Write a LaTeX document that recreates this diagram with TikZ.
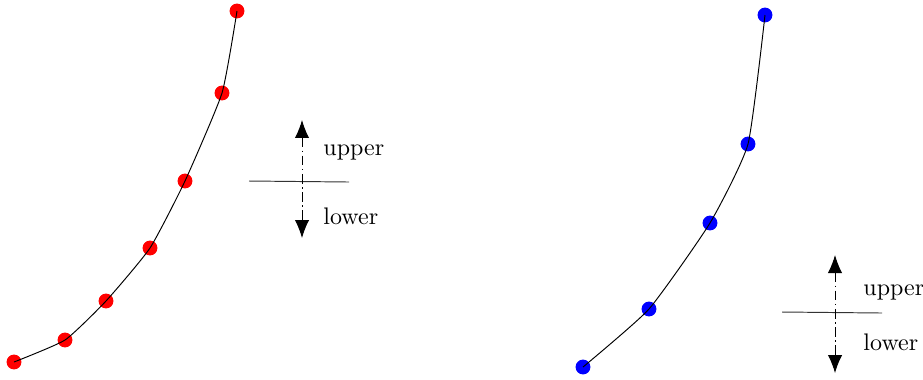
\documentclass[tikz,border=0pt]{standalone}
\usetikzlibrary{arrows.meta}
\begin{document}
\begin{tikzpicture}[x=0.417pt,y=-0.417pt,
  reddot/.style={circle,fill=red,inner sep=0pt,minimum size=6.2pt},
  bluedot/.style={circle,fill=blue,inner sep=0pt,minimum size=6.2pt},
  curve/.style={line width=0.4pt,black},
  refline/.style={line width=0.4pt,black!80},
  dir/.style={line width=0.4pt,dash pattern=on 4pt off 1.5pt on 0.6pt off 1.5pt,{Latex[length=7.5pt,width=6pt]}-{Latex[length=7.5pt,width=6pt]}},
  lab/.style={anchor=west,inner sep=0pt}]
\useasboundingbox (0,0) rectangle (923,379);
% red dots
\node[reddot] (r1) at (14,362) {};
\node[reddot] (r2) at (65,340) {};
\node[reddot] (r3) at (106,301) {};
\node[reddot] (r4) at (150,248) {};
\node[reddot] (r5) at (185,181) {};
\node[reddot] (r6) at (222,93) {};
\node[reddot] (r7) at (237,11) {};
\draw[curve] plot[smooth,tension=0.3] coordinates {(r1.center) (r2.center) (r3.center) (r4.center) (r5.center) (r6.center) (r7.center)};
% blue dots
\node[bluedot] (b1) at (583,367) {};
\node[bluedot] (b2) at (649,309) {};
\node[bluedot] (b3) at (710,223) {};
\node[bluedot] (b4) at (748,144) {};
\node[bluedot] (b5) at (765,15) {};
\draw[curve] plot[smooth,tension=0.3] coordinates {(b1.center) (b2.center) (b3.center) (b4.center) (b5.center)};
% left indicator
\coordinate (lt) at (302,120);
\coordinate (lb) at (302,238);
\coordinate (ll) at (249,181);
\coordinate (lr) at (349,182);
\draw[refline] (ll) -- (lr);
\draw[dir] (lt) -- (lb);
\node[lab] (lu) at (323,152) {upper};
\node[lab] (lw) at (323,216) {lower};
% right indicator
\coordinate (rt) at (835,255);
\coordinate (rb) at (835,373);
\coordinate (rl) at (782,312);
\coordinate (rr) at (882,313);
\draw[refline] (rl) -- (rr);
\draw[dir] (rt) -- (rb);
\node[lab] (ru) at (863,292) {upper};
\node[lab] (rw) at (863,342) {lower};
\end{tikzpicture}
\end{document}
